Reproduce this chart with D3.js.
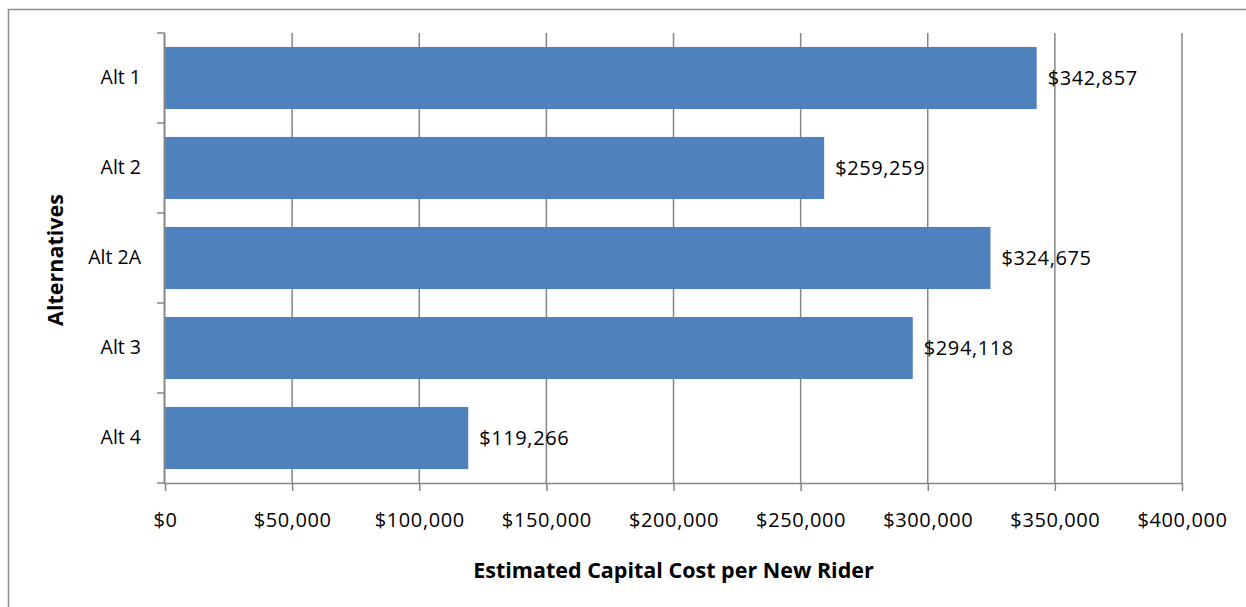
<!DOCTYPE html>
<html>
<head>
<meta charset="utf-8">
<script src="https://cdn.jsdelivr.net/npm/d3@7"></script>
<style>
  html, body { margin: 0; padding: 0; background: #fff; }
  svg { display: block; }
  text { font-family: "Open Sans", "Liberation Sans", sans-serif; fill: #000; }
</style>
</head>
<body>
<svg id="chart" width="1246" height="607"></svg>
<script>
// Capital cost per new rider by alternative
const categories = ["Alt 1", "Alt 2", "Alt 2A", "Alt 3", "Alt 4"];
const costPerRider = [342857, 259259, 324675, 294118, 119266];
const xTicks = [0, 50000, 100000, 150000, 200000, 250000, 300000, 350000, 400000];
const xTitle = "Estimated Capital Cost per New Rider";
const yTitle = "Alternatives";

const svg = d3.select("#chart");
const gridColor = "#868686";
const barColor = "#4F81BD";

// chart frame
svg.append("rect")
  .attr("x", 8.5).attr("y", 9.5)
  .attr("width", 1260).attr("height", 620)
  .attr("fill", "none").attr("stroke", "#8c8c8c").attr("stroke-width", 1.5);

const plot = { left: 165, right: 1182, top: 33, bottom: 483 };

const x = d3.scaleLinear().domain([0, 400000]).range([plot.left, plot.right]);
const y = d3.scaleBand().domain(categories)
  .range([plot.top, plot.bottom])
  .paddingInner(0.31).paddingOuter(0.155);

const fmt = v => "$" + d3.format(",")(v);

// vertical gridlines
svg.append("g").selectAll("line")
  .data(xTicks.slice(1))
  .join("line")
  .attr("x1", d => x(d)).attr("x2", d => x(d))
  .attr("y1", plot.top).attr("y2", plot.bottom)
  .attr("stroke", gridColor).attr("stroke-width", 1.5);

// bars
svg.append("g").selectAll("rect")
  .data(categories)
  .join("rect")
  .attr("x", x(0))
  .attr("y", d => y(d))
  .attr("width", (d, i) => x(costPerRider[i]) - x(0))
  .attr("height", y.bandwidth())
  .attr("fill", barColor);

// value labels
svg.append("g").selectAll("text")
  .data(categories)
  .join("text")
  .attr("x", (d, i) => x(costPerRider[i]) + 11)
  .attr("y", d => y(d) + y.bandwidth() / 2)
  .attr("dy", "0.36em")
  .style("font-size", "20px")
  .style("letter-spacing", "0.6px")
  .text((d, i) => fmt(costPerRider[i]));

// x axis
const xAxis = svg.append("g")
  .attr("transform", `translate(0,${plot.bottom})`)
  .call(d3.axisBottom(x).tickValues(xTicks).tickFormat(fmt).tickSizeInner(8).tickSizeOuter(0).tickPadding(22));
xAxis.select(".domain").attr("stroke", gridColor).attr("stroke-width", 1.5);
xAxis.selectAll(".tick line").attr("stroke", gridColor).attr("stroke-width", 1.5);
xAxis.selectAll(".tick text").style("font-size", "20px").attr("fill", "#000")
  .style("letter-spacing", "0.6px")
  .style("font-family", "'Open Sans', 'Liberation Sans', sans-serif");

// y axis
const yAxis = svg.append("g")
  .attr("transform", `translate(${plot.left - 1},0)`)
  .call(d3.axisLeft(y).tickSize(0).tickPadding(23));
yAxis.select(".domain").attr("stroke", gridColor).attr("stroke-width", 2);
yAxis.selectAll(".tick text").style("font-size", "19.5px").attr("fill", "#000")
  .style("font-family", "'Open Sans', 'Liberation Sans', sans-serif");

// category boundary ticks on the y axis
const bounds = d3.range(categories.length + 1).map(i => plot.top + i * y.step());
svg.append("g").selectAll("line")
  .data(bounds)
  .join("line")
  .attr("x1", plot.left - 8).attr("x2", plot.left)
  .attr("y1", d => d).attr("y2", d => d)
  .attr("stroke", gridColor).attr("stroke-width", 1.5);

// axis titles
svg.append("text")
  .attr("x", (plot.left + plot.right) / 2)
  .attr("y", 578)
  .attr("text-anchor", "middle")
  .style("font-size", "21.5px").style("font-weight", "bold")
  .text(xTitle);

svg.append("text")
  .attr("transform", `translate(63,${(plot.top + plot.bottom) / 2 + 2}) rotate(-90)`)
  .attr("text-anchor", "middle")
  .style("font-size", "21.5px").style("font-weight", "bold")
  .text(yTitle);
</script>
</body>
</html>
